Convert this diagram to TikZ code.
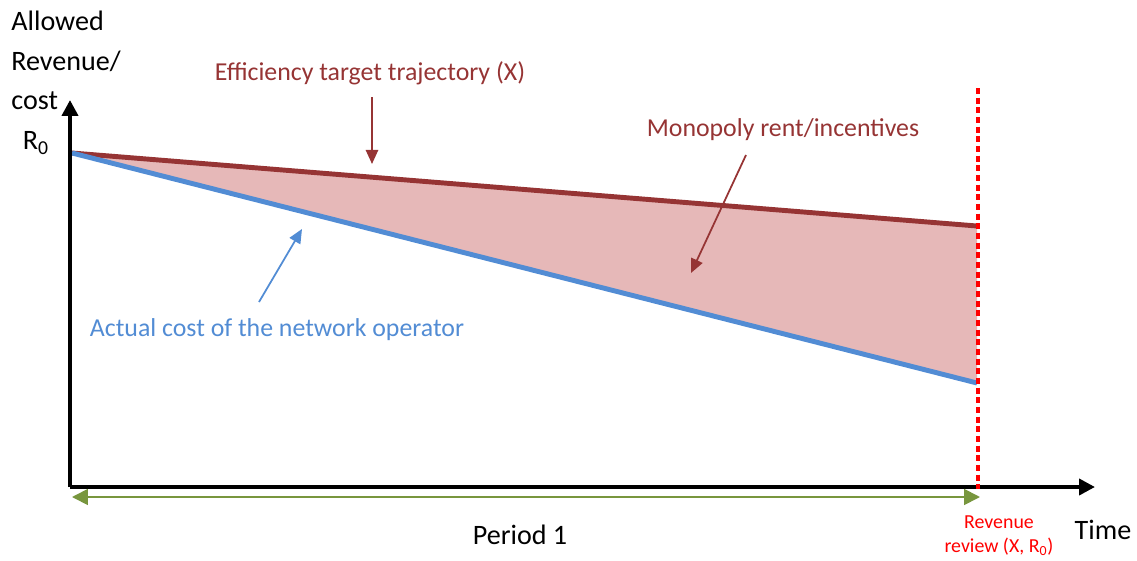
\documentclass[tikz,border=0pt]{standalone}
\usepackage{fontspec}
\setmainfont{Carlito}
\usetikzlibrary{arrows.meta}
\definecolor{rentred}{RGB}{150,52,52}
\definecolor{rentfill}{RGB}{230,184,184}
\definecolor{costblue}{RGB}{82,140,212}
\definecolor{periodgreen}{RGB}{120,150,62}
\begin{document}
\begin{tikzpicture}[x=0.02cm, y=-0.02cm]
    \tikzstyle{axis} = [line width = 2.2pt, -{Triangle[length=9pt, width=9pt]}]
    \tikzstyle{pointer} = [line width = 1pt, -{Triangle[length=8pt, width=7pt]}]
    \tikzstyle{label} = [font = \fontsize{16}{19}\selectfont, inner sep = 0pt]
    \tikzstyle{note} = [font = \fontsize{14.7}{17}\selectfont, inner sep = 0pt]
    \useasboundingbox (0,0) rectangle (1137,561);

    \coordinate (O) at (70,487);
    \coordinate (Ytop) at (70,100);
    \coordinate (Xend) at (1095,487);
    \coordinate (R0pt) at (72,153);
    \coordinate (Xpt) at (977,226);
    \coordinate (Cpt) at (977,383);
    \coordinate (Rtop) at (978,88);
    \coordinate (Rbot) at (978,489);
    \coordinate (Pleft) at (72,497);
    \coordinate (Pright) at (980,497);

    % rent area
    \fill[rentfill](R0pt)--(Xpt)--(Cpt)--cycle;
    \draw[rentred, line width = 2.8pt](R0pt)--(Xpt);
    \draw[costblue, line width = 2.8pt](R0pt)--(Cpt);

    % axes
    \draw[axis](O)--(Ytop);
    \draw[axis](O)--(Xend);
    \draw[red, line width = 2.6pt, dash pattern = on 3.5pt off 2pt](Rtop)--(Rbot);
    \draw[periodgreen, line width = 1pt, {Triangle[length=9pt, width=9pt]}-{Triangle[length=9pt, width=9pt]}](Pleft)--(Pright);

    \node[label, align = left, anchor = north west](Ylab) at (11,11){Allowed\\[3.5pt]Revenue/\\[3.5pt]cost};
    \node[label](R0) at (36,143){R\textsubscript{0}};
    \node[label](Time) at (1103,530){Time};
    \node[label](Period) at (520,535){Period 1};
    \node[font = \fontsize{11.3}{13.6}\selectfont, text = red, align = center, inner sep = 0pt](Review) at (999,536){Revenue\\review (X, R\textsubscript{0})};

    \node[note, text = rentred](Eff) at (370,73){Efficiency target trajectory (X)};
    \node[note, text = rentred](Rent) at (783,130){Monopoly rent/incentives};
    \node[note, text = costblue](Cost) at (277,330){Actual cost of the network operator};

    \coordinate (EffA) at (372,97);
    \coordinate (EffB) at (372,164);
    \coordinate (RentA) at (746,155);
    \coordinate (RentB) at (691,273);
    \coordinate (CostA) at (259,302);
    \coordinate (CostB) at (302,229);
    \draw[pointer, rentred](EffA)--(EffB);
    \draw[pointer, rentred](RentA)--(RentB);
    \draw[pointer, costblue](CostA)--(CostB);
\end{tikzpicture}
\end{document}
